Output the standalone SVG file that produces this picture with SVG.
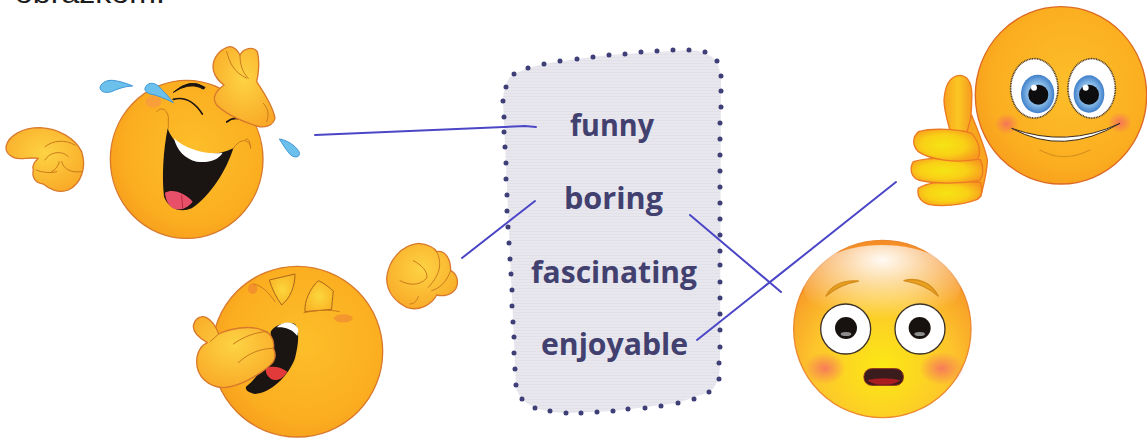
<svg xmlns="http://www.w3.org/2000/svg" width="1147" height="443" viewBox="0 0 1147 443">
<style>
.word{font-family:"Open Sans","Noto Sans",sans-serif;font-weight:700;font-size:31px;fill:#41406f}
.link{fill:none;stroke:#4b46c6;stroke-width:2;stroke-linecap:round;stroke-linejoin:round}
.skin{fill:url(#skin);stroke:#d8792c;stroke-width:4}
.hand{fill:url(#hand);stroke:#d8792c;stroke-width:4;stroke-linejoin:round}
.crease{fill:none;stroke:#c9791c;stroke-width:3;stroke-linecap:round;stroke-linejoin:round}
.tear{fill:#6cc0ec;stroke:#3f96d6;stroke-width:3}
.ink{fill:none;stroke:#1d1512;stroke-linecap:round}
.lid{fill:url(#lid);stroke:#a8661a;stroke-width:3;stroke-linejoin:round}
.band{fill:url(#band);stroke:#ec7a22;stroke-width:4}
</style>
<defs>
<radialGradient id="skin" cx=".55" cy=".45" r=".6"><stop offset="0" stop-color="#fdbe2a"/><stop offset=".75" stop-color="#fbae20"/><stop offset="1" stop-color="#f79e1c"/></radialGradient>
<radialGradient id="hand" cx=".5" cy=".4" r=".65"><stop offset="0" stop-color="#fdd344"/><stop offset="1" stop-color="#f9a927"/></radialGradient>
<radialGradient id="lid" cx=".5" cy=".5" r=".6"><stop offset="0" stop-color="#fbd73c"/><stop offset="1" stop-color="#fbb224"/></radialGradient>
<radialGradient id="band" cx=".45" cy=".5" r=".6"><stop offset="0" stop-color="#f5e414"/><stop offset=".55" stop-color="#f9d016"/><stop offset="1" stop-color="#f79a1f"/></radialGradient>
<linearGradient id="thumb" x1="0" y1="0" x2="1" y2="0"><stop offset="0" stop-color="#f8a01f"/><stop offset=".5" stop-color="#fbc822"/><stop offset="1" stop-color="#f79a1f"/></linearGradient>
<radialGradient id="shock" cx=".5" cy=".72" r=".72"><stop offset="0" stop-color="#fbe914"/><stop offset=".55" stop-color="#fdc52c"/><stop offset="1" stop-color="#f58b25"/></radialGradient>
<radialGradient id="blush"><stop offset="0" stop-color="#f5616a" stop-opacity=".75"/><stop offset="1" stop-color="#f5616a" stop-opacity="0"/></radialGradient>
<radialGradient id="irisG" cx=".5" cy=".5" r=".5"><stop offset=".55" stop-color="#8fc0ea"/><stop offset="1" stop-color="#3f7fca"/></radialGradient>
<radialGradient id="shine" cx=".5" cy=".18" r=".7"><stop offset="0" stop-color="#fff" stop-opacity=".95"/><stop offset=".4" stop-color="#fff" stop-opacity=".55"/><stop offset="1" stop-color="#fff" stop-opacity="0"/></radialGradient>
<pattern id="weave" width="3" height="3" patternUnits="userSpaceOnUse"><rect width="3" height="3" fill="#e8e7ee"/><rect width="3" height="1" fill="#e2e1e9"/></pattern>
</defs>
<rect width="1147" height="443" fill="#fff"/>
<text x="15" y="3" font-family="Liberation Sans, sans-serif" font-size="27" fill="#1c1c1c" textLength="150" lengthAdjust="spacingAndGlyphs">obrázkom.</text>

<g id="word-panel">
<path d="M506 87Q507 78 514 74L528 68L544 64L577 59L609 55L689 50Q705 50 717 61L721 76L720 363Q720 385 709 392L678 403L613 411L566 413Q535 412 522 399Q516 392 516 385L503 101Q503 92 506 87Z" fill="url(#weave)"/>
<path fill="none" stroke="#3f3f78" stroke-width="5" stroke-linecap="round" d="M514 74h0M528 68h0M544 64h0M560 61h0M577 59h0M593 57h0M609 55h0M625 54h0M641 52h0M657 51h0M673 50h0M689 50h0M705 52h0M717 61h0M721 76h0M721 91h0M721 107h0M720 123h0M720 139h0M720 155h0M720 171h0M720 187h0M720 203h0M720 219h0M720 235h0M720 251h0M720 265h0M720 282h0M720 298h0M720 314h0M720 330h0M720 347h0M719 363h0M719 379h0M709 392h0M694 399h0M678 403h0M661 406h0M645 408h0M628 409h0M613 411h0M597 412h0M581 413h0M566 413h0M550 411h0M535 408h0M522 399h0M516 385h0M515 369h0M514 353h0M514 337h0M513 322h0M512 306h0M512 290h0M511 274h0M510 259h0M509 243h0M508 227h0M507 211h0M507 195h0M506 179h0M506 163h0M505 147h0M504 132h0M504 117h0M503 101h0M506 87h0"/>
<text class="word" x="570" y="136" textLength="84" lengthAdjust="spacingAndGlyphs">funny</text>
<text class="word" x="564" y="209" textLength="99" lengthAdjust="spacingAndGlyphs">boring</text>
<text class="word" x="531" y="283" textLength="166" lengthAdjust="spacingAndGlyphs">fascinating</text>
<text class="word" x="541" y="355" textLength="147" lengthAdjust="spacingAndGlyphs">enjoyable</text>
</g>

<g id="emoji-laughing" transform="scale(.33333)">
<path class="hand" d="M18 440C25 405 70 383 120 383C175 385 225 415 245 455C260 500 245 550 205 570C175 582 145 565 130 552C105 550 95 530 100 510C95 495 105 485 115 475C85 470 60 482 40 472C25 465 17 452 18 440Z"/>
<path class="crease" d="M135 440C160 420 195 418 225 435M135 480C150 455 185 450 205 470M185 485C190 505 210 520 245 515M108 510C125 518 155 520 170 515M178 485C175 500 165 510 155 515"/>
<ellipse class="skin" cx="560" cy="478" rx="229" ry="237"/>
<path d="M503 385C520 440 600 490 700 445C680 510 630 590 575 625C540 640 505 625 492 590C485 530 490 450 503 385Z" fill="#1a1412"/>
<path d="M522 415C560 450 620 465 668 458C655 480 625 490 590 485C555 478 530 450 522 415Z" fill="#fff"/>
<path d="M495 578C520 565 555 580 578 605C565 620 550 630 530 628C510 625 497 605 495 578Z" fill="#e8506a"/>
<path d="M545 585L548 625" stroke="#b82c40" stroke-width="3" fill="none"/>
<path class="crease" d="M470 335C480 320 500 325 505 350C505 370 505 385 505 385M700 445C720 415 745 415 752 440M735 420C745 410 750 425 752 445"/>
<path class="ink" stroke-width="5" d="M520 298Q570 285 607 342M680 366Q705 345 735 364"/>
<path d="M520 277Q570 232 615 262Q612 272 600 262Q565 248 520 277Z" fill="#1a1412" stroke="#1a1412" stroke-width="3"/>
<ellipse cx="460" cy="305" rx="24" ry="18" fill="#f5826a" opacity=".35"/>
<path class="hand" d="M640 190C645 165 665 145 690 140C705 142 715 155 720 165C730 145 760 138 772 155C780 185 775 225 770 245C790 275 820 320 825 355C818 378 795 385 770 378C730 365 680 345 650 315C635 295 645 275 672 255C650 240 635 215 640 190Z"/>
<path class="crease" d="M680 155C690 190 700 215 740 235M720 165C720 190 725 215 745 235M790 310C805 325 808 345 800 365"/>
<path class="tear" d="M300 262C305 245 325 238 345 242C365 245 385 252 398 258C375 258 350 268 332 276C315 280 300 275 300 262Z"/>
<path class="tear" d="M435 265C440 248 460 245 475 258C490 272 510 295 520 308C495 295 470 285 450 282C440 278 433 272 435 265Z"/>
<path class="tear" d="M838 417C860 420 885 435 897 455C903 472 885 475 872 465C858 450 848 432 838 417Z"/>
</g>

<g id="emoji-yawning" transform="translate(180 230) scale(.33333)">
<circle class="skin" cx="352" cy="365" r="256"/>
<path d="M272 305C285 285 320 272 345 282C360 305 355 345 345 385C325 440 270 490 225 492C205 488 195 480 198 470C240 440 275 370 272 305Z" fill="#1a1412"/>
<path d="M290 292C310 272 345 272 355 300L352 318C335 295 310 290 290 292Z" fill="#fff"/>
<path d="M258 415C275 405 305 412 322 425C310 445 290 455 275 448C262 440 255 428 258 415Z" fill="#e23a3a"/>
<path class="lid" d="M268 150L345 132C345 170 330 205 305 225C290 205 275 175 268 150Z"/>
<path class="lid" d="M415 152C435 160 450 175 460 183C458 205 455 225 455 238L375 245C372 215 390 175 415 152Z"/>
<path class="crease" d="M220 162C245 165 268 190 285 215M372 248C410 240 450 238 478 245"/>
<ellipse cx="218" cy="176" rx="14" ry="16" fill="#e8713a" opacity=".45"/>
<ellipse cx="490" cy="265" rx="28" ry="12" fill="#e8713a" opacity=".45"/>
<path class="hand" d="M40 290C42 268 60 255 78 262C95 270 108 290 116 312C150 295 210 285 245 300C270 305 285 330 280 355C290 375 285 395 265 410C230 440 175 470 130 473C85 470 50 440 50 395C50 365 65 345 82 338C60 325 40 310 40 290Z"/>
<path class="crease" d="M160 342C190 320 230 305 262 305M175 398C205 370 240 355 282 355M90 335L116 312"/>
<path class="hand" d="M620 145C625 90 665 45 715 40C745 42 765 55 770 65C795 60 812 85 812 122C830 130 838 155 828 175C815 195 790 200 770 195C755 225 715 245 680 232C645 215 620 185 620 145Z"/>
<path class="crease" d="M700 92C725 105 745 125 740 145C715 170 685 165 660 152M770 65C785 95 785 130 745 172M812 122C800 155 780 175 755 182M715 200C710 215 700 222 690 222"/>
</g>

<g id="emoji-thumbs-up" transform="translate(890 0) scale(.33333)">
<ellipse cx="513" cy="286" rx="257" ry="266" fill="url(#skin)" stroke="#dd6a24" stroke-width="4"/>
<ellipse cx="350" cy="372" rx="36" ry="32" fill="url(#blush)"/>
<ellipse cx="690" cy="368" rx="36" ry="32" fill="url(#blush)"/>
<ellipse cx="433" cy="265" rx="71" ry="89" fill="#fff" stroke="#4a3a28" stroke-width="5" stroke-dasharray="3 2"/>
<ellipse cx="605" cy="265" rx="71" ry="89" fill="#fff" stroke="#4a3a28" stroke-width="5" stroke-dasharray="3 2"/>
<ellipse cx="443" cy="282" rx="50" ry="58" fill="url(#irisG)"/>
<ellipse cx="597" cy="282" rx="46" ry="56" fill="url(#irisG)"/>
<circle cx="445" cy="284" r="30" fill="#0d0d10"/>
<circle cx="597" cy="284" r="30" fill="#0d0d10"/>
<circle cx="432" cy="263" r="9" fill="#fff"/>
<circle cx="587" cy="263" r="9" fill="#fff"/>
<path d="M365 385Q520 470 690 370Q530 445 365 385Z" fill="#fff" stroke="#3a2a1c" stroke-width="3" stroke-linejoin="round"/>
<path d="M450 450Q520 490 600 450" fill="none" stroke="#d8911c" stroke-width="4" stroke-linecap="round"/>
<path d="M162 300C165 255 180 228 210 226C240 228 248 260 245 300C245 340 240 375 238 395L180 392C172 360 162 330 162 300Z" fill="url(#thumb)" stroke="#ec7a22" stroke-width="4"/>
<path d="M245 345C258 380 285 440 292 480C292 510 285 540 272 590L240 500L230 400Z" fill="#f9a61f" stroke="#ec7a22" stroke-width="4" stroke-linejoin="round"/>
<path class="band" d="M85 565C120 540 230 540 272 548C280 570 275 590 262 598C210 618 150 620 115 613C90 605 80 585 85 565Z"/>
<path class="band" d="M70 485C120 470 230 470 272 480C282 505 280 530 268 542C210 552 130 552 85 540C62 530 58 505 70 485Z"/>
<path class="band" d="M85 395C130 382 210 388 245 400C268 425 275 460 262 478C200 490 120 480 85 455C65 435 68 410 85 395Z"/>
</g>

<g id="emoji-shocked" transform="translate(780 230) scale(.33333)">
<circle cx="307" cy="297" r="266" fill="url(#shock)" stroke="#ec8a30" stroke-width="4"/>
<ellipse cx="307" cy="170" rx="235" ry="125" fill="url(#shine)"/>
<ellipse cx="135" cy="415" rx="62" ry="48" fill="url(#blush)"/>
<ellipse cx="485" cy="415" rx="68" ry="50" fill="url(#blush)"/>
<path d="M138 198C155 165 190 150 235 153C195 160 165 175 138 198ZM372 152C415 140 455 160 475 198C450 175 415 160 372 152Z" fill="#e8a21f" stroke="#d68d1c" stroke-width="4" stroke-linejoin="round"/>
<circle cx="197" cy="297" r="75" fill="#fff" stroke="#3c3228" stroke-width="4"/>
<circle cx="420" cy="297" r="75" fill="#fff" stroke="#3c3228" stroke-width="4"/>
<circle cx="198" cy="294" r="33" fill="#17120f"/>
<circle cx="419" cy="294" r="33" fill="#17120f"/>
<ellipse cx="198" cy="312" rx="16" ry="6" fill="#8d8d8d"/>
<ellipse cx="419" cy="312" rx="16" ry="6" fill="#8d8d8d"/>
<rect x="252" y="416" width="118" height="50" rx="23" fill="#3a1c1c" stroke="#8a2a1c" stroke-width="3"/>
<path d="M262 450Q310 440 360 450Q350 464 310 464Q275 464 262 450Z" fill="#a81c22"/>
</g>

<g id="connectors">
<path class="link" d="M315 135L525 126L536 127"/>
<path class="link" d="M462 258L535 201"/>
<path class="link" d="M690 215L781 292"/>
<path class="link" d="M697 340L896 182"/>
</g>
</svg>
